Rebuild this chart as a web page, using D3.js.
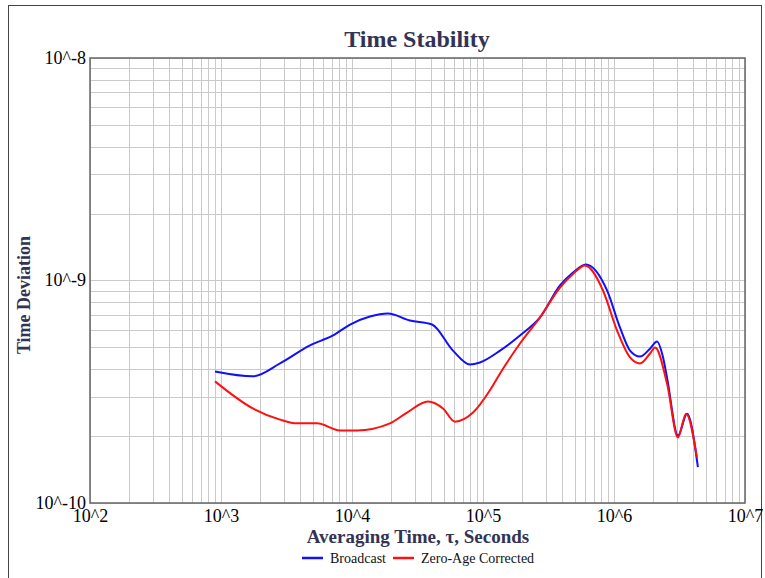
<!DOCTYPE html>
<html>
<head>
<meta charset="utf-8">
<script src="https://cdn.jsdelivr.net/npm/d3@7"></script>
<style>
  body { margin: 0; background: #fff; }
  svg { display: block; }
  text { font-family: "Liberation Serif", "Times New Roman", serif; }
</style>
</head>
<body>
<svg class="js-chart" width="765" height="578"></svg>
<script>
"use strict";

//data

const tauBroadcast = [900, 1750, 2820, 4780, 7160, 9660, 13700, 18800, 27700, 40800, 59000, 79600, 94800,
  134900, 191500, 272300, 387000, 486700, 611000, 885000, 1.11e6, 1.325e6, 1.579e6, 1.883e6, 2.13e6,
  2.35e6, 2.54e6, 3.08e6, 3.61e6, 4.37e6];
const devBroadcast = [3.90e-10, 3.71e-10, 4.24e-10, 5.11e-10, 5.66e-10, 6.34e-10, 6.89e-10, 7.11e-10, 6.61e-10,
  6.34e-10, 4.84e-10, 4.19e-10, 4.28e-10, 4.84e-10, 5.66e-10, 6.82e-10, 9.50e-10, 1.086e-9, 1.18e-9,
  9.02e-10, 6.15e-10, 4.84e-10, 4.55e-10, 4.94e-10, 5.32e-10, 4.6e-10, 3.66e-10, 2.01e-10, 2.52e-10, 1.45e-10];

const tauCorrected = [900, 1750, 2820, 3800, 5410, 8090, 10900, 19500, 26300, 38000, 49500, 61100, 83900,
  113000, 134900, 191500, 272300, 387000, 486700, 601000, 824000, 1.055e6, 1.325e6, 1.579e6, 1.883e6,
  2.06e6, 2.54e6, 3.08e6, 3.55e6, 4.30e6];
const devCorrected = [3.52e-10, 2.66e-10, 2.37e-10, 2.28e-10, 2.28e-10, 2.12e-10, 2.12e-10, 2.28e-10, 2.55e-10,
  2.86e-10, 2.66e-10, 2.32e-10, 2.55e-10, 3.21e-10, 3.82e-10, 5.21e-10, 6.82e-10, 9.30e-10, 1.07e-9,
  1.168e-9, 9.02e-10, 5.96e-10, 4.51e-10, 4.24e-10, 4.70e-10, 5.00e-10, 3.44e-10, 1.97e-10, 2.52e-10, 1.60e-10];

const seriesNames = ["Broadcast", "Zero-Age Corrected"];
const seriesColors = ["#1010ff", "#ff1010"];

const xTicks = [1e2, 1e3, 1e4, 1e5, 1e6, 1e7];
const xTickLabels = ["10^2", "10^3", "10^4", "10^5", "10^6", "10^7"];
const yTicks = [1e-10, 1e-9, 1e-8];
const yTickLabels = ["10^-10", "10^-9", "10^-8"];

//layout

const params = { w: 765, h: 578, left: 90, right: 745, top: 58, bottom: 503 };

const svg = d3.select(".js-chart");

//frame

svg.append("rect")
  .attr("x", 8.5).attr("y", 5.5)
  .attr("width", 753).attr("height", 600)
  .attr("fill", "none").attr("stroke", "#444").attr("stroke-width", 1);

//scales

const x = d3.scaleLog().domain([1e2, 1e7]).range([params.left, params.right]);
const y = d3.scaleLog().domain([1e-10, 1e-8]).range([params.bottom, params.top]);

//grid

const gridX = [];
for (let k = 2; k < 7; k++) for (let i = 1; i < 10; i++) gridX.push(i * Math.pow(10, k));
gridX.push(1e7);

const gridY = [];
for (let k = -10; k < -8; k++) for (let i = 1; i < 10; i++) gridY.push(i * Math.pow(10, k));
gridY.push(1e-8);

const grid = svg.append("g").attr("stroke", "#cacaca").attr("stroke-width", 1);

grid.selectAll(".gx").data(gridX).enter().append("line")
  .attr("x1", (d) => Math.round(x(d)) + 0.5).attr("x2", (d) => Math.round(x(d)) + 0.5)
  .attr("y1", params.top).attr("y2", params.bottom);

grid.selectAll(".gy").data(gridY).enter().append("line")
  .attr("y1", (d) => Math.round(y(d)) + 0.5).attr("y2", (d) => Math.round(y(d)) + 0.5)
  .attr("x1", params.left).attr("x2", params.right);

//plot border

svg.append("rect")
  .attr("x", params.left).attr("y", params.top)
  .attr("width", params.right - params.left).attr("height", params.bottom - params.top)
  .attr("fill", "none").attr("stroke", "#666").attr("stroke-width", 1.5);

//axes

const xAxis = d3.axisBottom(x).tickValues(xTicks).tickSize(0)
  .tickFormat((d, i) => xTickLabels[i]);
const gx = svg.append("g").attr("transform", `translate(0,${params.bottom})`).call(xAxis);
gx.select(".domain").remove();
gx.selectAll("text").attr("dy", null).attr("y", 19)
  .attr("font-size", 18).attr("font-family", "Liberation Serif").attr("fill", "#000");

const yAxis = d3.axisLeft(y).tickValues(yTicks).tickSize(0)
  .tickFormat((d, i) => yTickLabels[i]);
const gy = svg.append("g").attr("transform", `translate(${params.left},0)`).call(yAxis);
gy.select(".domain").remove();
gy.selectAll("text").attr("x", -4).attr("dy", "0.3em")
  .attr("font-size", 18).attr("font-family", "Liberation Serif").attr("fill", "#000");

//titles

svg.append("text")
  .attr("x", 417).attr("y", 47)
  .attr("text-anchor", "middle")
  .attr("font-size", 24).attr("font-weight", "bold").attr("fill", "#333355")
  .text("Time Stability");

svg.append("text")
  .attr("x", 418).attr("y", 543)
  .attr("text-anchor", "middle")
  .attr("font-size", 19).attr("font-weight", "bold").attr("fill", "#333355")
  .text("Averaging Time, \u03c4, Seconds");

svg.append("text")
  .attr("transform", "translate(30,295) rotate(-90)")
  .attr("text-anchor", "middle")
  .attr("font-size", 18).attr("font-weight", "bold").attr("fill", "#333355")
  .text("Time Deviation");

//lines

const line = d3.line()
  .x((d) => x(d[0]))
  .y((d) => y(d[1]))
  .curve(d3.curveMonotoneX);

const series = [
  d3.zip(tauBroadcast, devBroadcast),
  d3.zip(tauCorrected, devCorrected)
];

svg.append("g").selectAll("path").data(series).enter().append("path")
  .attr("d", line)
  .attr("fill", "none")
  .attr("stroke", (d, i) => seriesColors[i])
  .attr("stroke-width", 2);

//legend

const legendX = [302, 393];
const legend = svg.append("g").selectAll("g").data(seriesNames).enter().append("g")
  .attr("transform", (d, i) => `translate(${legendX[i]},558)`);

legend.append("line")
  .attr("x1", 0).attr("x2", 21).attr("y1", 0).attr("y2", 0)
  .attr("stroke", (d, i) => seriesColors[i]).attr("stroke-width", 2.5);

legend.append("text")
  .attr("x", 28).attr("y", 4.5)
  .attr("font-size", 14).attr("fill", "#111")
  .text((d) => d);
</script>
</body>
</html>
